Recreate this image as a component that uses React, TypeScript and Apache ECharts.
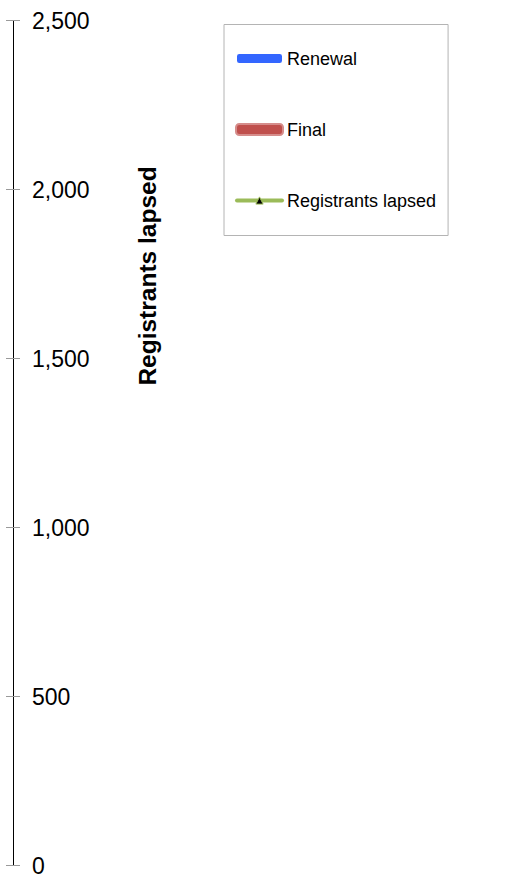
import React, { useEffect, useRef } from "react";
import * as echarts from "echarts";

const categories: string[] = [];
const renewalValues: number[] = [];
const finalValues: number[] = [];
const lapsedValues: number[] = [];
const seriesNames = ["Renewal", "Final", "Registrants lapsed"];
const yTicks = [0, 500, 1000, 1500, 2000, 2500];
const axisTitle = "Registrants lapsed";

const FONT = '"Liberation Sans", Arial, sans-serif';

export default function App() {
  const ref = useRef<HTMLDivElement>(null);
  useEffect(() => {
    if (!ref.current) return;
    const chart = echarts.init(ref.current, undefined, { renderer: "svg" });
    const yMin = yTicks[0];
    const yMax = yTicks[yTicks.length - 1];
    const yInterval = yTicks[1] - yTicks[0];
    chart.setOption({
      animation: false,
      grid: { left: 13, top: 20.5, height: 847, right: 20 },
      xAxis: { type: "category", data: categories, show: false },
      yAxis: [
        {
          type: "value",
          min: yMin,
          max: yMax,
          interval: yInterval,
          axisLine: { show: true, lineStyle: { color: "#000", width: 1 } },
          axisTick: { show: true, inside: false, length: 7, lineStyle: { color: "#9a9a9a" } },
          axisLabel: {
            inside: true,
            margin: 19,
            fontSize: 23,
            color: "#000",
            fontFamily: FONT,
            formatter: (v: number) => v.toLocaleString("en-US"),
          },
          splitLine: { show: false },
        },
        {
          type: "value",
          min: yMin,
          max: yMax,
          interval: yInterval,
          position: "left",
          axisLine: { show: false },
          axisTick: { show: true, inside: true, length: 7, lineStyle: { color: "#9a9a9a" } },
          axisLabel: { show: false },
          splitLine: { show: false },
        },
      ],
      legend: {
        orient: "vertical",
        left: 224,
        top: 24.5,
        padding: [24, 12, 25, 11],
        itemWidth: 45,
        itemHeight: 9,
        itemGap: 51,
        borderColor: "#b4b4b4",
        borderWidth: 1,
        textStyle: { fontSize: 18, lineHeight: 20, color: "#000", fontFamily: FONT },
        data: [
          { name: seriesNames[0], itemStyle: { color: "#3366ff", borderWidth: 0 } },
          {
            name: seriesNames[1],
            itemStyle: { color: "#c0504d", borderColor: "rgba(192,80,77,0.65)", borderWidth: 4 },
          },
          {
            name: seriesNames[2],
            lineStyle: { color: "#9bbb59", width: 4, cap: "round" },
            itemStyle: { color: "#000", borderColor: "#9bbb59", borderWidth: 1 },
          },
        ],
      },
      graphic: [
        {
          type: "text",
          x: 147,
          y: 276,
          rotation: Math.PI / 2,
          style: {
            text: axisTitle,
            font: `bold 24.5px ${FONT}`,
            fill: "#000",
            align: "center",
            verticalAlign: "middle",
          },
        },
      ],
      series: [
        {
          name: seriesNames[0],
          type: "bar",
          data: renewalValues,
          itemStyle: { color: "#3366ff" },
        },
        {
          name: seriesNames[1],
          type: "bar",
          data: finalValues,
          itemStyle: { color: "#c0504d", borderColor: "rgba(192,80,77,0.65)", borderWidth: 2 },
        },
        {
          name: seriesNames[2],
          type: "line",
          data: lapsedValues,
          symbol: "triangle",
          symbolSize: 8,
          lineStyle: { color: "#9bbb59", width: 4 },
          itemStyle: { color: "#000", borderColor: "#9bbb59", borderWidth: 1 },
        },
      ],
    });
    return () => chart.dispose();
  }, []);
  return (
    <div
      ref={ref}
      style={{ position: "fixed", left: 0, top: 0, width: 518, height: 877, background: "#fff" }}
    />
  );
}
